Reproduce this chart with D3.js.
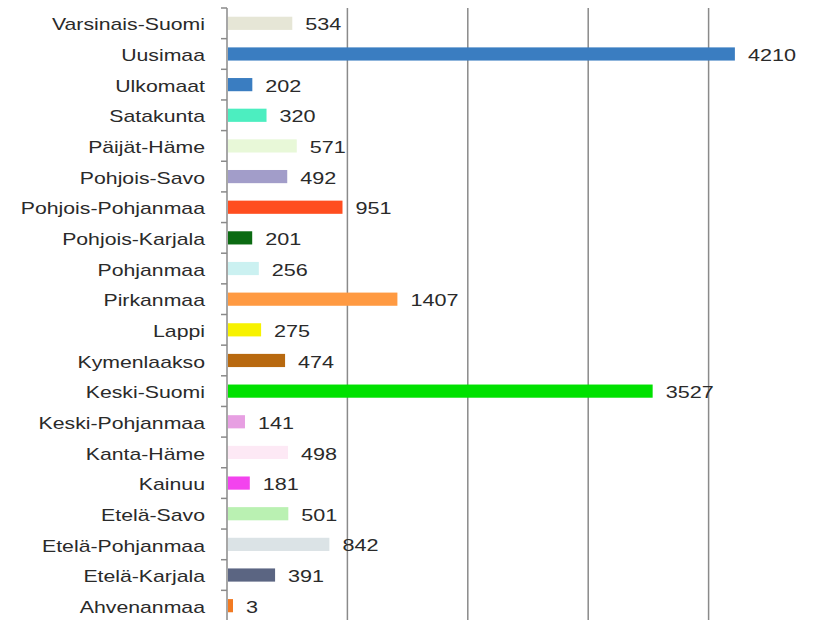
<!DOCTYPE html>
<meta charset="utf-8">
<script src="https://cdn.jsdelivr.net/npm/d3@7"></script>
<style>
  body { margin: 0; background: #fff; }
  text { font-family: "Liberation Sans", Arial, sans-serif; font-size: 17px; fill: #2a2a2a; }
</style>
<body>
<script>

var width = 817
var height = 620

var regions = ["Varsinais-Suomi", "Uusimaa", "Ulkomaat", "Satakunta", "Päijät-Häme", "Pohjois-Savo",
               "Pohjois-Pohjanmaa", "Pohjois-Karjala", "Pohjanmaa", "Pirkanmaa", "Lappi", "Kymenlaakso",
               "Keski-Suomi", "Keski-Pohjanmaa", "Kanta-Häme", "Kainuu", "Etelä-Savo", "Etelä-Pohjanmaa",
               "Etelä-Karjala", "Ahvenanmaa"]
var counts = [534, 4210, 202, 320, 571, 492, 951, 201, 256, 1407, 275, 474, 3527, 141, 498, 181, 501, 842, 391, 3]
var colors = ["#e6e6d6", "#3a7dc1", "#3a7dc1", "#4ceec0", "#e8f8d8", "#a29dc9", "#ff4d1f", "#0b6b12",
              "#cbf1f1", "#ff9a42", "#f7f200", "#b8690f", "#00e100", "#e79fe2", "#fde9f5", "#f343ee",
              "#baf1b2", "#dbe3e6", "#5b6582", "#f27a22"]
var gridTicks = [1000, 2000, 3000, 4000]

var x = d3.scaleLinear().domain([0, 5000]).range([227, 829])
var y = d3.scaleBand().domain(regions).range([8, 621]).paddingInner(0.57).paddingOuter(0.285)

var svg = d3.select("body").append("svg")
            .attr("width", width)
            .attr("height", height)

// vertical gridlines
svg.append("g").selectAll("line")
   .data(gridTicks)
   .enter().append("line")
   .attr("x1", d => x(d)).attr("x2", d => x(d))
   .attr("y1", 8).attr("y2", height)
   .attr("stroke", "#8a8a8a")
   .attr("stroke-width", 1.5)

// category axis with ticks between rows
var step = y.step()
var axis = svg.append("g")
axis.append("line")
    .attr("x1", x(0)).attr("x2", x(0))
    .attr("y1", 8).attr("y2", height)
    .attr("stroke", "#8a8a8a")
    .attr("stroke-width", 1.5)
axis.selectAll(".tick")
    .data(regions)
    .enter().append("line")
    .attr("x1", x(0) - 6).attr("x2", x(0))
    .attr("y1", d => y(d) - y.paddingOuter() * step)
    .attr("y2", d => y(d) - y.paddingOuter() * step)
    .attr("stroke", "#8a8a8a")
    .attr("stroke-width", 1.5)

svg.append("g").selectAll("rect")
   .data(regions)
   .enter().append("rect")
   .attr("x", x(0) + 1)
   .attr("y", d => y(d))
   .attr("height", y.bandwidth())
   .attr("width", (d, i) => Math.max(x(counts[i]) - x(0), 5))
   .attr("fill", (d, i) => colors[i])

svg.append("g").selectAll("text")
   .data(regions)
   .enter().append("text")
   .attr("transform", d => "translate(205," + (y(d) + y.bandwidth() / 2 + 1) + ") scale(1.25,1)")
   .attr("dy", "0.36em")
   .style("text-anchor", "end")
   .text(d => d)

svg.append("g").selectAll("text")
   .data(regions)
   .enter().append("text")
   .attr("transform", (d, i) => "translate(" + (x(0) + Math.max(x(counts[i]) - x(0), 5) + 14) + "," + (y(d) + y.bandwidth() / 2 + 1) + ") scale(1.27,1)")
   .attr("dy", "0.36em")
   .style("text-anchor", "start")
   .text((d, i) => counts[i])

</script>
</body>
